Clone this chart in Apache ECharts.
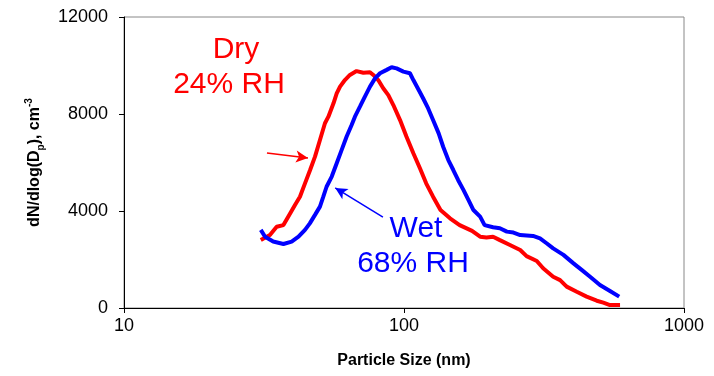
<!DOCTYPE html>
<html>
<head>
<meta charset="utf-8">
<script src="https://cdn.jsdelivr.net/npm/echarts@6/dist/echarts.min.js"></script>
<style>
  html, body { margin: 0; padding: 0; background: #fff; }
  #chart { width: 714px; height: 376px; }
</style>
</head>
<body>
<div id="chart"></div>
<script>
// particle size (nm) and dN/dlog(Dp)
var dryX = [30.8, 33.2, 35.1, 37.1, 39.2, 40.8, 42.5, 44.3, 46.2, 48.1, 50.1, 52.2, 53.7, 56.0, 57.5, 59.1, 61.5, 64.1, 67.7, 71.6, 75.6, 77.7, 80.9, 84.3, 87.9, 91.6, 96.8, 102, 108, 114, 120, 127, 135, 146, 158, 175, 187, 197, 208, 220, 239, 260, 274, 298, 314, 341, 361, 381, 414, 449, 488, 515, 544, 591];
var dryY = [2800, 3010, 3350, 3420, 3900, 4250, 4590, 5140, 5690, 6240, 6930, 7620, 7890, 8440, 8850, 9130, 9400, 9610, 9770, 9700, 9720, 9610, 9400, 9060, 8780, 8370, 7750, 7070, 6380, 5760, 5140, 4590, 4040, 3700, 3420, 3180, 2940, 2910, 2940, 2800, 2600, 2390, 2140, 1940, 1640, 1290, 1150, 880, 670, 470, 300, 220, 120, 120];
var wetX = [30.8, 31.9, 34.1, 37.1, 39.7, 42.0, 44.3, 46.1, 48.1, 50.1, 51.5, 52.9, 55.2, 57.5, 59.9, 62.4, 65.0, 66.8, 69.6, 72.5, 75.6, 78.8, 82.1, 86.7, 90.3, 94.1, 99.5, 105, 108, 112, 117, 122, 127, 133, 138, 144, 150, 156, 163, 170, 177, 187, 194, 208, 220, 233, 246, 260, 289, 306, 323, 341, 371, 403, 431, 462, 501, 544, 587];
var wetY = [3220, 2940, 2740, 2640, 2740, 2940, 3220, 3490, 3840, 4180, 4590, 5000, 5420, 5970, 6520, 7070, 7550, 7890, 8300, 8720, 9130, 9470, 9680, 9820, 9930, 9880, 9750, 9680, 9400, 9060, 8650, 8230, 7750, 7200, 6650, 6100, 5690, 5280, 4870, 4450, 4040, 3770, 3420, 3330, 3290, 3150, 3110, 3010, 2970, 2870, 2670, 2460, 2190, 1840, 1570, 1290, 950, 700, 470];

// arrow ends in data coordinates [tail, head]
var dryArrow = [[32.4, 6390], [45.4, 6190]];
var wetArrow = [[84.1, 3750], [56.8, 4950]];

function pairs(xs, ys) {
    return xs.map(function (x, i) { return [x, ys[i]]; });
}

var font = 'Liberation Sans, Arial, sans-serif';
var plain = function (v) { return String(v); };

var option = {
    animation: false,
    grid: {
        left: 124, right: 30, top: 17, bottom: 68,
        show: true, borderColor: '#888', borderWidth: 1
    },
    xAxis: {
        type: 'log', logBase: 10, min: 10, max: 1000,
        name: 'Particle Size (nm)',
        nameLocation: 'middle', nameGap: 45,
        nameTextStyle: { fontFamily: font, fontWeight: 'bold', fontSize: 16, color: '#000' },
        axisLine: { lineStyle: { color: '#000', width: 1 } },
        axisTick: { show: true, length: 5, lineStyle: { color: '#000' } },
        minorTick: { show: false },
        splitLine: { show: false },
        axisLabel: { fontFamily: font, fontSize: 18, color: '#000', margin: 9, formatter: plain }
    },
    yAxis: {
        type: 'value', min: 0, max: 12000, interval: 4000,
        name: 'dN/dlog(D{sub|p}), cm{sup|-3}',
        nameLocation: 'middle', nameGap: 78,
        nameTextStyle: {
            fontFamily: font, fontWeight: 'bold', fontSize: 16, color: '#000',
            rich: {
                sub: { fontFamily: font, fontWeight: 'bold', fontSize: 10, verticalAlign: 'bottom', lineHeight: 22 },
                sup: { fontFamily: font, fontWeight: 'bold', fontSize: 10, verticalAlign: 'top', lineHeight: 22 }
            }
        },
        axisLine: { show: true, lineStyle: { color: '#000', width: 1 } },
        axisTick: { show: true, length: 5, lineStyle: { color: '#000' } },
        splitLine: { show: false },
        axisLabel: { fontFamily: font, fontSize: 18, color: '#000', margin: 16, formatter: plain }
    },
    series: [
        {
            name: 'Dry', type: 'line', showSymbol: false, smooth: false,
            data: pairs(dryX, dryY),
            lineStyle: { color: '#ff0000', width: 4 },
            itemStyle: { color: '#ff0000' },
            markLine: {
                silent: true, symbol: ['none', 'arrow'], symbolSize: [9, 12],
                label: { show: false },
                lineStyle: { color: '#ff0000', width: 1.5, type: 'solid' },
                data: [[{ coord: dryArrow[0] }, { coord: dryArrow[1] }]]
            }
        },
        {
            name: 'Wet', type: 'line', showSymbol: false, smooth: false,
            data: pairs(wetX, wetY),
            lineStyle: { color: '#0000ff', width: 4 },
            itemStyle: { color: '#0000ff' },
            markLine: {
                silent: true, symbol: ['none', 'arrow'], symbolSize: [9, 12],
                label: { show: false },
                lineStyle: { color: '#0000ff', width: 1.5, type: 'solid' },
                data: [[{ coord: wetArrow[0] }, { coord: wetArrow[1] }]]
            }
        }
    ],
    graphic: [
        { type: 'text', x: 236, y: 50, style: { text: 'Dry', fill: '#ff0000', font: '30px ' + font, align: 'center', verticalAlign: 'middle' } },
        { type: 'text', x: 229, y: 85, style: { text: '24% RH', fill: '#ff0000', font: '30px ' + font, align: 'center', verticalAlign: 'middle' } },
        { type: 'text', x: 416, y: 229, style: { text: 'Wet', fill: '#0000ff', font: '30px ' + font, align: 'center', verticalAlign: 'middle' } },
        { type: 'text', x: 413, y: 264, style: { text: '68% RH', fill: '#0000ff', font: '30px ' + font, align: 'center', verticalAlign: 'middle' } }
    ]
};

var chart = echarts.init(document.getElementById('chart'));
chart.setOption(option);
</script>
</body>
</html>
